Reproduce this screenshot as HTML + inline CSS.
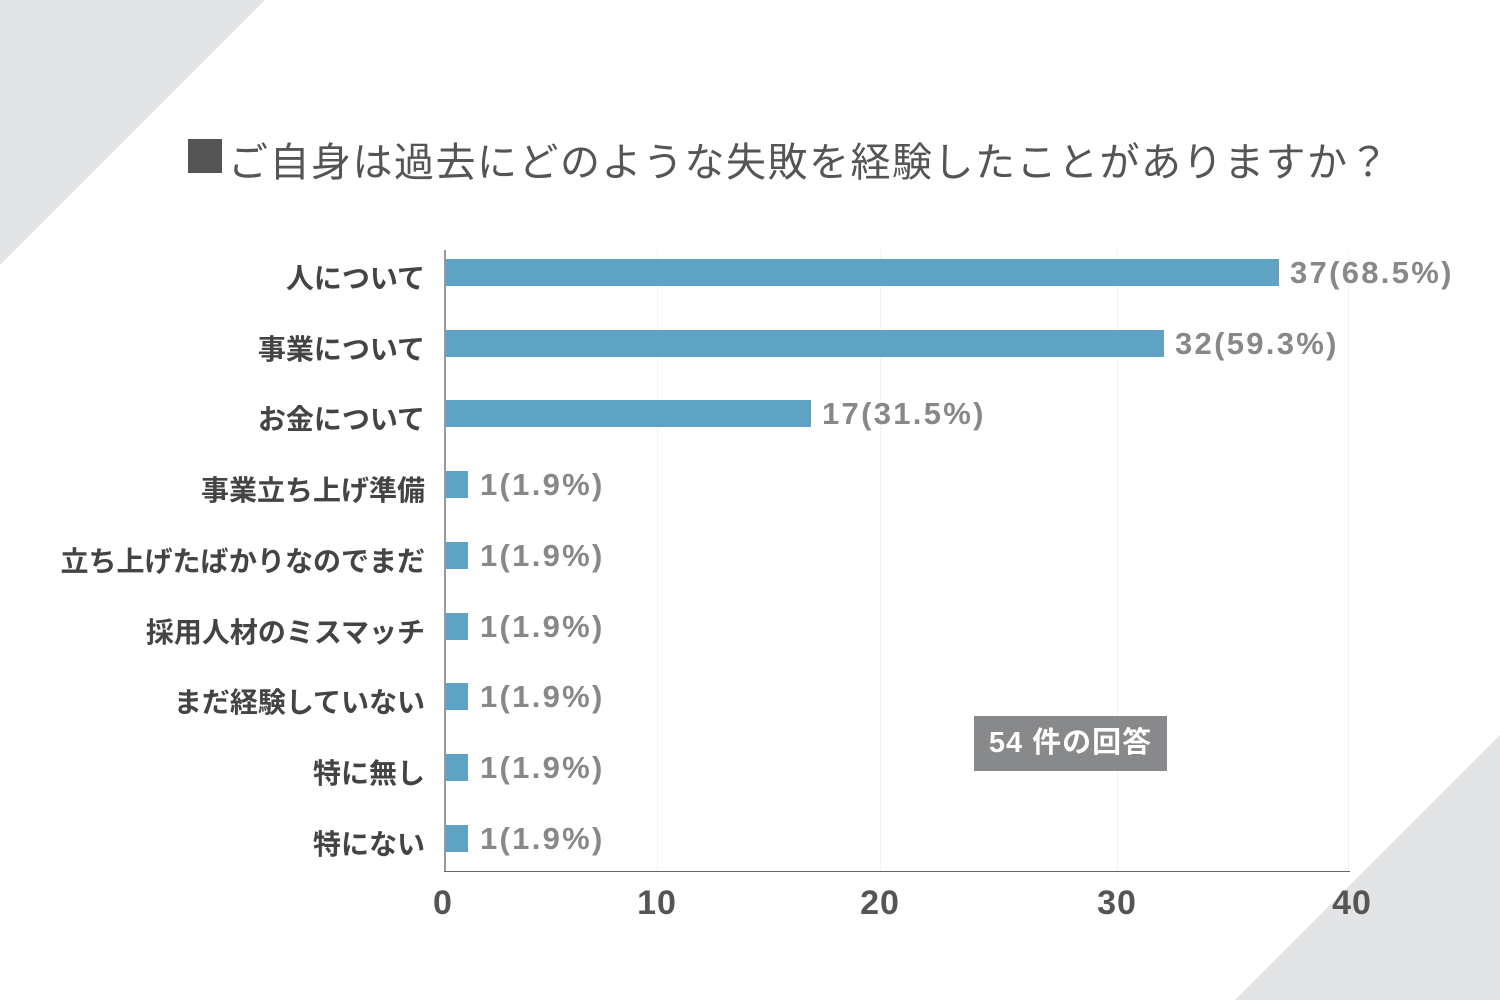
<!DOCTYPE html>
<html><head><meta charset="utf-8"><style>
body{margin:0;width:1500px;height:1000px;background:#fff;position:relative;overflow:hidden;font-family:"Liberation Sans","Noto Sans CJK JP",sans-serif}
.a{position:absolute}
.lab{position:absolute;right:1075px;font-size:28px;font-weight:bold;color:#444;white-space:nowrap;line-height:30px;margin-top:4px}
.bar{position:absolute;left:446px;height:27px;background:#5fa3c4}
.val{position:absolute;font-size:31px;letter-spacing:2.3px;font-weight:bold;color:#888;line-height:30px;white-space:nowrap}
.tk{position:absolute;top:884px;font-size:34px;letter-spacing:1px;font-weight:bold;color:#555;width:100px;text-align:center;margin-left:-50px}
.g{position:absolute;top:250px;height:621px;width:1px;background:#f1f3f4}
</style></head><body>
<svg class="a" style="left:0;top:0" width="1500" height="1000"><polygon points="0,0 265,0 0,265" fill="#e3e4e6"/><polygon points="1500,735 1500,1000 1235,1000" fill="#e3e4e6"/></svg>
<div class="a" style="left:188px;top:139px;width:34px;height:34px;background:#555"></div>
<div class="a" style="left:228px;top:130px;font-size:40px;letter-spacing:1.5px;color:#555;white-space:nowrap">ご自身は過去にどのような失敗を経験したことがありますか？</div>
<div class="g" style="left:657px"></div><div class="g" style="left:880px"></div><div class="g" style="left:1117px"></div><div class="g" style="left:1348px"></div>
<div class="a" style="left:444px;top:250px;width:2px;height:622px;background:#999"></div>
<div class="a" style="left:444px;top:871px;width:906px;height:1px;background:#666"></div>
<div class="bar" style="top:259px;width:833px"></div><div class="val" style="left:1290px;top:258px">37(68.5%)</div>
<div class="bar" style="top:330px;width:718px"></div><div class="val" style="left:1175px;top:329px">32(59.3%)</div>
<div class="bar" style="top:400px;width:365px"></div><div class="val" style="left:822px;top:399px">17(31.5%)</div>
<div class="bar" style="top:471px;width:22px"></div><div class="val" style="left:480px;top:470px">1(1.9%)</div>
<div class="bar" style="top:542px;width:22px"></div><div class="val" style="left:480px;top:541px">1(1.9%)</div>
<div class="bar" style="top:613px;width:22px"></div><div class="val" style="left:480px;top:612px">1(1.9%)</div>
<div class="bar" style="top:683px;width:22px"></div><div class="val" style="left:480px;top:682px">1(1.9%)</div>
<div class="bar" style="top:754px;width:22px"></div><div class="val" style="left:480px;top:753px">1(1.9%)</div>
<div class="bar" style="top:825px;width:22px"></div><div class="val" style="left:480px;top:824px">1(1.9%)</div>
<div class="lab" style="top:260px">人について</div>
<div class="lab" style="top:331px">事業について</div>
<div class="lab" style="top:401px">お金について</div>
<div class="lab" style="top:472px">事業立ち上げ準備</div>
<div class="lab" style="top:543px">立ち上げたばかりなのでまだ</div>
<div class="lab" style="top:614px">採用人材のミスマッチ</div>
<div class="lab" style="top:684px">まだ経験していない</div>
<div class="lab" style="top:755px">特に無し</div>
<div class="lab" style="top:826px">特にない</div>
<div class="tk" style="left:443px">0</div><div class="tk" style="left:657px">10</div><div class="tk" style="left:880px">20</div><div class="tk" style="left:1117px">30</div><div class="tk" style="left:1352px">40</div>
<div class="a" style="left:974px;top:716px;width:193px;height:55px;background:#88898b;color:#fff;font-size:29px;letter-spacing:1px;font-weight:bold;line-height:55px;text-align:center">54 件の回答</div>
</body></html>
